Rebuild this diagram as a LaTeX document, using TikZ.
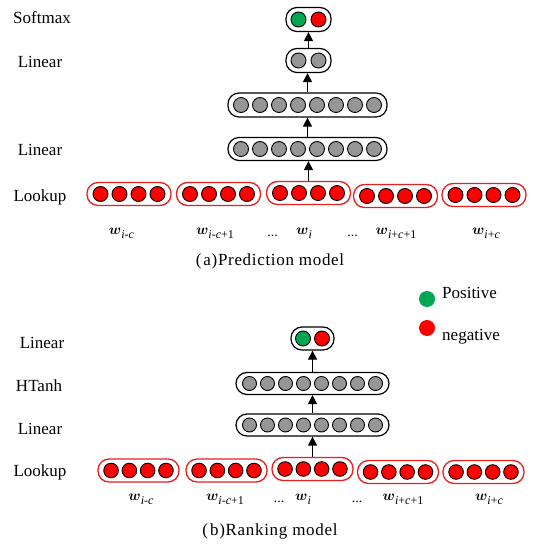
\documentclass[tikz,border=0pt]{standalone}
\usepackage{amsmath}
\usepackage{fontspec}
\setmainfont{Liberation Serif}
\usetikzlibrary{arrows.meta}
\definecolor{nngreen}{RGB}{0,166,81}
\definecolor{nnred}{RGB}{255,0,0}
\definecolor{nngray}{RGB}{150,150,150}
\definecolor{boxred}{RGB}{235,30,30}
\tikzset{
  blackbox/.style={draw=black, line width=1.2pt, rounded corners=11pt, minimum height=23pt, inner sep=0pt, fill=white},
  redbox/.style={draw=boxred, line width=1.3pt, rounded corners=11pt, minimum height=23pt, inner sep=0pt, fill=white},
  unit/.style={draw=black, line width=0.9pt},
  arr/.style={-{Triangle[length=9pt,width=9pt]}, line width=1pt},
  lbl/.style={font=\fontsize{17}{20}\selectfont, anchor=base, inner sep=0pt},
  wlbl/.style={font=\fontsize{15}{17}\selectfont, anchor=base, inner sep=0pt},
  dlbl/.style={font=\fontsize{14}{16}\selectfont, anchor=base, inner sep=0pt},
  captext/.style={font=\fontsize{17}{19}\selectfont\addfontfeatures{LetterSpace=4}, anchor=base, inner sep=0pt},
  legdot/.style={circle, inner sep=0pt, minimum size=16pt}
}
\newcommand\nnunits[5]{%
  \foreach \k in {1,...,#2}
    \draw[unit, fill=#5] ([xshift={(\k-(#2+1)/2)*#3}]#1.center) circle[radius=#4];}
\newcommand\wsub[1]{$\boldsymbol{w}$\raisebox{-4pt}{\fontsize{12}{12}\selectfont #1}}
\begin{document}
\begin{tikzpicture}[x=1pt,y=-1pt]
\useasboundingbox (0,0) rectangle (543,545);
% ---------------- (a) Prediction model ----------------
\node[blackbox, minimum width=45pt, minimum height=24pt] (asm) at (308.5,19.5) {};
\draw[unit, fill=nngreen] ([xshift=-10pt]asm.center) circle[radius=7.5pt];
\draw[unit, fill=nnred] ([xshift=10pt]asm.center) circle[radius=7.5pt];
\node[blackbox, minimum width=45pt, minimum height=24pt] (alin2) at (308.5,60.5) {};
\nnunits{alin2}{2}{20pt}{7.5pt}{nngray}
\node[blackbox, minimum width=159pt, minimum height=24pt] (ahid) at (307.5,105) {};
\nnunits{ahid}{8}{19pt}{7.5pt}{nngray}
\node[blackbox, minimum width=159pt, minimum height=23pt] (alin1) at (307.5,149) {};
\nnunits{alin1}{8}{19pt}{7.5pt}{nngray}
\node[redbox, minimum width=84pt] (alk1) at (129,194) {};
\node[redbox, minimum width=84pt] (alk2) at (218.5,194) {};
\node[redbox, minimum width=84pt] (alk3) at (308.5,193) {};
\node[redbox, minimum width=84pt] (alk4) at (395.5,196) {};
\node[redbox, minimum width=84pt] (alk5) at (484,195) {};
\foreach \b in {alk1,alk2,alk3,alk4,alk5}{\nnunits{\b}{4}{19pt}{7.5pt}{nnred}}
\draw[arr] (alk3.north) -- (alk3.north |- alin1.south);
\draw[arr] (alin1.north) -- (alin1.north |- ahid.south);
\draw[arr] (ahid.north) -- (ahid.north |- alin2.south);
\draw[arr] (alin2.north) -- (alin2.north |- asm.south);
\node[lbl] (tasm) at (42,24) {Softmax};
\node[lbl] (talin2) at (40,68) {Linear};
\node[lbl] (talin1) at (40,156) {Linear};
\node[lbl] (talk) at (40,201) {Lookup};
\node[wlbl] (aw1) at (121.5,234) {\wsub{\textit{i}-\textit{c}}};
\node[wlbl] (aw2) at (215,234) {\wsub{\textit{i}-\textit{c}+1}};
\node[dlbl] (ad1) at (272.5,236) {...};
\node[wlbl] (aw3) at (304,234) {\wsub{\textit{i}}};
\node[dlbl] (ad2) at (352.5,236) {...};
\node[wlbl] (aw4) at (396,234) {\wsub{\textit{i}+\textit{c}+1}};
\node[wlbl] (aw5) at (486,234) {\wsub{\textit{i}+\textit{c}}};
\node[captext] (capa) at (270,265) {(\kern2pt a)Prediction\ model};
% ---------------- legend ----------------
\node[legdot, fill=nngreen] (legg) at (427,299) {};
\node[legdot, fill=nnred] (legr) at (427,328) {};
\node[lbl, anchor=base west] (legp) at (442,298) {Positive};
\node[lbl, anchor=base west] (legn) at (442,340) {negative};
% ---------------- (b) Ranking model ----------------
\node[blackbox, minimum width=43pt] (btop) at (312.5,338.5) {};
\draw[unit, fill=nngreen] ([xshift=-9.5pt]btop.center) circle[radius=7.5pt];
\draw[unit, fill=nnred] ([xshift=9.5pt]btop.center) circle[radius=7.5pt];
\node[blackbox, minimum width=153pt, minimum height=22pt] (bht) at (312.5,383.5) {};
\nnunits{bht}{8}{18pt}{7pt}{nngray}
\node[blackbox, minimum width=153pt, minimum height=22pt] (blin) at (312.5,425) {};
\nnunits{blin}{8}{18pt}{7pt}{nngray}
\node[redbox, minimum width=81pt] (blk1) at (138.5,470.5) {};
\node[redbox, minimum width=81pt] (blk2) at (226.5,470.5) {};
\node[redbox, minimum width=81pt] (blk3) at (312.5,469) {};
\node[redbox, minimum width=81pt] (blk4) at (398,472) {};
\node[redbox, minimum width=81pt] (blk5) at (483.5,472) {};
\foreach \b in {blk1,blk2,blk3,blk4,blk5}{\nnunits{\b}{4}{18.3pt}{7.3pt}{nnred}}
\draw[arr] (blk3.north) -- (blk3.north |- blin.south);
\draw[arr] (blin.north) -- (blin.north |- bht.south);
\draw[arr] (bht.north) -- (bht.north |- btop.south);
\node[lbl] (tblin2) at (42,348) {Linear};
\node[lbl] (tbht) at (39,391) {HTanh};
\node[lbl] (tblin1) at (40,434) {Linear};
\node[lbl] (tblk) at (40,476) {Lookup};
\node[wlbl] (bw1) at (141,500) {\wsub{\textit{i}-\textit{c}}};
\node[wlbl] (bw2) at (225,500) {\wsub{\textit{i}-\textit{c}+1}};
\node[dlbl] (bd1) at (279,502) {...};
\node[wlbl] (bw3) at (303,500) {\wsub{\textit{i}}};
\node[dlbl] (bd2) at (357,502) {...};
\node[wlbl] (bw4) at (403,500) {\wsub{\textit{i}+\textit{c}+1}};
\node[wlbl] (bw5) at (489,500) {\wsub{\textit{i}+\textit{c}}};
\node[captext] (capb) at (270,535) {(\kern2pt b)Ranking\ model};
\end{tikzpicture}
\end{document}
